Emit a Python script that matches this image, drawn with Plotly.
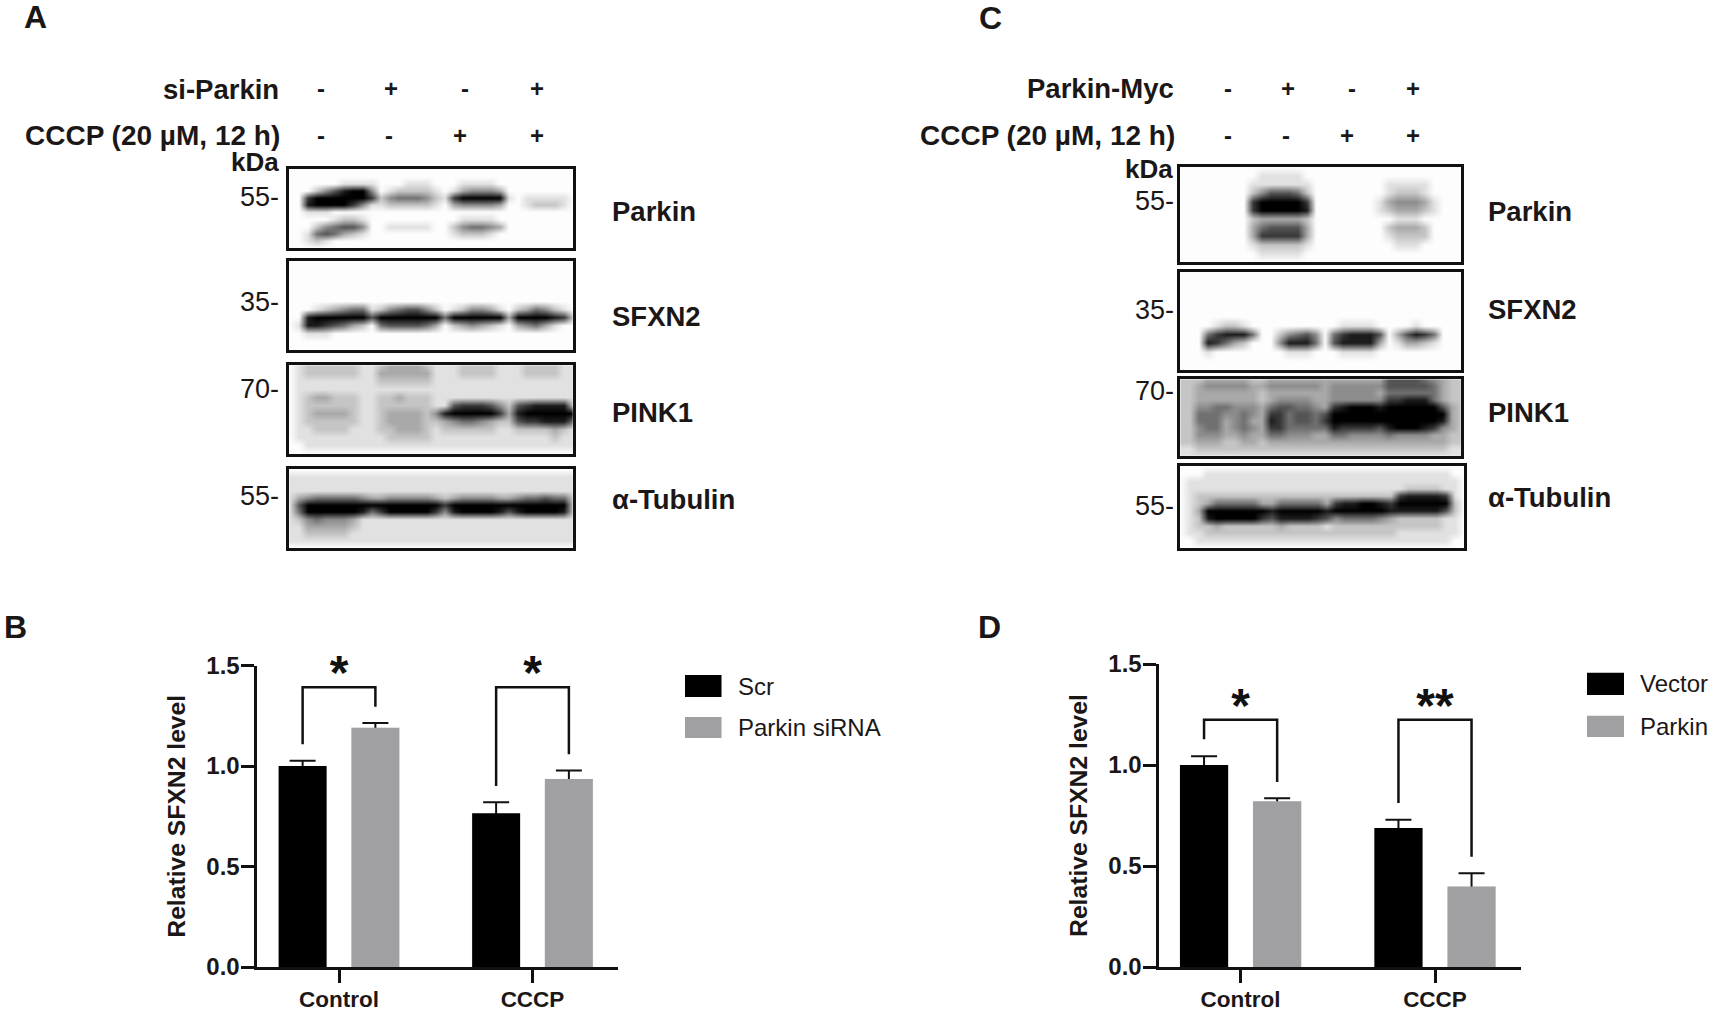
import plotly.graph_objects as go

W, H = 1713, 1009
FONT = "Liberation Sans"
INK = "#1c1717"

# ---------- bar data ----------
GROUPS = ["Control", "CCCP"]
B_SERIES = ["Scr", "Parkin siRNA"]
B_FIRST = [1.0, 0.765]
B_SECOND = [1.19, 0.935]
B_FIRST_ERR = [0.026, 0.055]
B_SECOND_ERR = [0.024, 0.043]
B_BRACKET_TOP = [1.392, 1.392]
B_BRACKET_LEFT = [1.108, 0.90]
B_BRACKET_RIGHT = [1.295, 1.058]
B_STARS = ["*", "*"]

D_SERIES = ["Vector", "Parkin"]
D_FIRST = [1.0, 0.688]
D_SECOND = [0.82, 0.398]
D_FIRST_ERR = [0.043, 0.041]
D_SECOND_ERR = [0.015, 0.066]
D_BRACKET_TOP = [1.224, 1.224]
D_BRACKET_LEFT = [1.128, 0.8125]
D_BRACKET_RIGHT = [0.916, 0.546]
D_STARS = ["*", "**"]

Y_TICKS = [0.0, 0.5, 1.0, 1.5]
Y_TICK_TEXT = ["0.0", "0.5", "1.0", "1.5"]
Y_TITLE = "Relative SFXN2 level"

# ---------- blot darkness (0 white .. 9 black) ----------
A_PARKIN = [
"00 0000000 0 0000000 0 000000 0 000000 0",
"00 0000000 0 0000000 0 000000 0 000000 0",
"00 0000111 1 0001110 0 011110 0 000000 0",
"00 0246899 4 0122221 0 134443 0 000000 0",
"00 7999999 7 2455542 1 799999 1 011111 0",
"00 8999974 1 1222221 0 344443 0 012221 0",
"00 1110000 0 0000000 0 000000 0 000000 0",
"00 0001221 0 0000000 0 011110 0 000000 0",
"00 0245664 0 0111110 0 245543 0 000000 0",
"00 1565321 0 0000000 0 122210 0 000000 0",
"00 1210000 0 0000000 0 000000 0 000000 0",
"00 0000000 0 0000000 0 000000 0 000000 0",
]
A_SFXN2 = [
"00 0000000 0 0000000 0 000000 0 000000 0",
"00 0000000 0 0000000 0 000000 0 000000 0",
"00 0000000 0 0000000 0 000000 0 000000 0",
"00 0000000 0 0000000 0 000000 0 000000 0",
"00 0000000 0 0000000 0 000000 0 000000 0",
"00 0000000 0 0000000 0 000000 0 000000 0",
"00 0123455 1 2456642 0 124431 0 235421 0",
"00 8999999 6 9999999 5 999999 3 999987 2",
"01 8876532 0 5666653 0 234321 0 345310 0",
"00 1110000 0 0000000 0 000000 0 000000 0",
"00 0000000 0 0000000 0 000000 0 000000 0",
"00 0000000 0 0000000 0 000000 0 000000 0",
]
A_PINK1 = [
"01 2222221 1 2333321 1 122221 1 122221 1",
"01 2222221 1 3333331 1 122221 1 122221 1",
"01 1111111 1 2222221 1 111111 1 111111 1",
"01 1111111 1 1111111 1 111111 1 111111 1",
"01 2332221 1 2232221 1 111111 1 111111 1",
"01 2222221 1 2222221 1 677764 2 678888 2",
"01 2333321 1 2333324 8 999997 3 899999 9",
"01 2222221 1 2333322 3 455432 2 677888 5",
"01 1222211 1 2233321 2 222221 1 222232 1",
"01 1111111 1 1222221 1 111111 1 111121 1",
"00 1111111 1 1111111 1 111111 1 111111 1",
"00 0000000 0 0000000 0 000000 0 000000 0",
]
A_TUBULIN = [
"00 0000000 0 0000000 0 000000 0 000000 0",
"11 1111111 1 1111111 1 111111 1 111111 1",
"11 1111111 1 1111111 1 111111 1 111111 1",
"11 1111111 1 1111111 1 111111 1 111111 1",
"13 4555554 3 3444443 2 344443 3 455655 2",
"16 9999999 9 9999999 7 999999 9 999999 2",
"15 9999998 5 7999997 4 899998 6 899998 2",
"12 4544431 1 1111111 1 111111 1 111111 1",
"11 3333321 1 1111111 1 111111 1 111111 1",
"11 2222211 1 1111111 1 111111 1 111111 1",
"11 1111111 1 1111111 1 111111 1 111111 1",
"00 0000000 0 0000000 0 000000 0 000000 0",
]
C_PARKIN = [
"00000000 0000000 0000000 0000000 000",
"00000000 0111110 0000000 0000000 000",
"00000000 1111111 0000000 0111110 000",
"00000000 2466652 0000000 0122210 000",
"00000000 7999997 0000000 1344431 000",
"00000000 7999998 0000000 1233321 000",
"00000000 2333332 0000000 0011100 000",
"00000000 3566663 0000000 0233320 000",
"00000000 3777773 0000000 0122220 000",
"00000000 1222221 0000000 0011100 000",
"00000000 0111110 0000000 0000000 000",
"00000000 0000000 0000000 0000000 000",
]
C_SFXN2 = [
"000 000000 00 00000 0 000000 0 00000 000",
"000 000000 00 00000 0 000000 0 00000 000",
"000 000000 00 00000 0 000000 0 00000 000",
"000 000000 00 00000 0 000000 0 00000 000",
"000 000000 00 00000 0 000000 0 00000 000",
"000 000000 00 00000 0 000000 0 00000 000",
"000 012210 00 00000 0 011110 0 00100 000",
"000 578885 00 24564 0 578886 0 36875 000",
"000 875320 00 48885 0 688883 0 13321 000",
"000 100000 00 01110 0 011110 0 00000 000",
"000 000000 00 00000 0 000000 0 00000 000",
"000 000000 00 00000 0 000000 0 00000 000",
]
C_PINK1 = [
"22 2333332 2 333333 3 333333 666654 322",
"22 3444443 3 444444 3 444444 666665 322",
"22 3333333 2 333333 3 444443 555555 322",
"22 3333333 2 344443 3 444444 778885 322",
"22 4455444 3 566554 3 789998 999999 632",
"22 5554454 3 775665 6 999999 999999 932",
"22 5553453 3 875665 7 999999 999999 832",
"22 4553454 3 775555 5 877776 899987 432",
"22 4443343 3 554443 3 554444 544443 322",
"22 3332233 2 333333 3 333333 333333 322",
"11 2222222 2 222222 2 222222 222222 211",
"11 1111111 1 111111 1 111111 111111 111",
]
C_TUBULIN = [
"000 0000000 0000000 0000000 000000 00",
"000 1111111 1111111 1111111 111111 00",
"011 1111111 1111111 1111111 111111 10",
"011 1111111 1111111 1111111 122221 10",
"012 2222222 2222222 2222222 788887 10",
"012 3555553 3555553 7889987 999999 20",
"013 9999999 8999998 9999998 888886 20",
"012 8999997 6888876 4555543 222221 10",
"012 2322222 2322221 2222222 222221 10",
"011 2222222 2222222 2222222 111111 10",
"001 1111111 1111111 1111111 111111 00",
"000 0000000 0000000 0000000 000000 00",
]

# ---------- text ----------
A_ROW_TITLES = ["si-Parkin", "CCCP (20 µM, 12 h)"]
A_ROW1 = ["-", "+", "-", "+"]
A_ROW2 = ["-", "-", "+", "+"]
C_ROW_TITLES = ["Parkin-Myc", "CCCP (20 µM, 12 h)"]
BLOT_NAMES = ["Parkin", "SFXN2", "PINK1", "α-Tubulin"]
A_MW = ["55-", "35-", "70-", "55-"]
C_MW = ["55-", "35-", "70-", "55-"]

# ---------- layout geometry (pixels in the 1713x1009 page) ----------
A_BOXES = [(288, 574, 168, 249), (288, 574, 260, 351), (288, 574, 364, 455), (288, 574, 468, 549)]
C_BOXES = [(1179, 1462, 166, 263), (1179, 1462, 271, 371), (1179, 1462, 378, 457), (1179, 1465, 465, 549)]
FRAME_INSET = 1.25

BAR_OFFSET = 0.188
BAR_WIDTH = 0.248
GREY = "#a0a0a3"


def fx(p):
    return p / W


def fy(p):
    return 1 - p / H


def parse(rows):
    grid = [[int(c) for c in r.replace(" ", "")] for r in rows]
    n = max(len(g) for g in grid)
    return [g + [0] * (n - len(g)) for g in grid]


fig = go.Figure()
layout = {}
annotations = []
shapes = []
axis_n = [0]


def new_axes(xdom, ydom):
    axis_n[0] += 1
    n = axis_n[0]
    suffix = "" if n == 1 else str(n)
    xa, ya = "xaxis" + suffix, "yaxis" + suffix
    layout[xa] = dict(domain=xdom, anchor="y" + suffix, automargin=False)
    layout[ya] = dict(domain=ydom, anchor="x" + suffix, automargin=False)
    return "x" + suffix, "y" + suffix, xa, ya


def add_blot(rows, box):
    x0, x1, y0, y1 = box
    i = FRAME_INSET
    xr, yr, xa, ya = new_axes([fx(x0 + i), fx(x1 - i)], [fy(y1 - i), fy(y0 + i)])
    z = parse(rows)
    fig.add_trace(go.Heatmap(
        z=z, xaxis=xr, yaxis=yr, zmin=0, zmax=9, zsmooth="best", showscale=False,
        colorscale=[[0, "#fdfdfd"], [1, "#000000"]], hoverinfo="skip"))
    common = dict(showticklabels=False, ticks="", showgrid=False, zeroline=False, showline=True,
                  mirror=True, linewidth=2.5, linecolor="#111111")
    layout[xa].update(common, range=[0, len(z[0]) - 1])
    layout[ya].update(common, range=[len(z) - 1, 0])


def text(s, x, y, size=27.5, bold=True, anchor="left", color=INK):
    annotations.append(dict(
        text=s, xref="paper", yref="paper", x=fx(x), y=fy(y), xanchor=anchor, yanchor="middle",
        showarrow=False, align=anchor, borderpad=0,
        font=dict(family=FONT, size=size, color=color, weight=700 if bold else 400)))


def add_bars(geom, series, first, second, first_err, second_err, top, left, right, stars, star_y):
    dl, dr, dt, db, t1, t2, title_standoff = geom
    xr, yr, xa, ya = new_axes([fx(dl), fx(dr)], [fy(db), fy(dt)])
    unit = t2 - t1
    pos = [1, 2]
    lo = [p - BAR_OFFSET for p in pos]
    hi = [p + BAR_OFFSET for p in pos]
    for xs, vals, errs, col, name in ((lo, first, first_err, "#000000", series[0]),
                                      (hi, second, second_err, GREY, series[1])):
        # whiskers sit on a hidden bar so that the opaque bar covers their lower cap
        fig.add_trace(go.Bar(
            x=xs, y=vals, width=BAR_WIDTH, xaxis=xr, yaxis=yr, showlegend=False, hoverinfo="skip",
            marker=dict(color="rgba(0,0,0,0)"),
            error_y=dict(type="data", symmetric=False, array=errs, arrayminus=[0.02] * len(errs),
                         color="#111111", thickness=2, width=13)))
        fig.add_trace(go.Bar(x=xs, y=vals, width=BAR_WIDTH, xaxis=xr, yaxis=yr, name=name,
                             showlegend=False, marker=dict(color=col, line=dict(width=0))))
    for i in range(2):
        fig.add_trace(go.Scatter(
            x=[lo[i], lo[i], hi[i], hi[i]], y=[left[i], top[i], top[i], right[i]],
            mode="lines", line=dict(color="#111111", width=2.5), xaxis=xr, yaxis=yr,
            showlegend=False, hoverinfo="skip", cliponaxis=False))
    fig.add_trace(go.Scatter(
        x=pos, y=star_y, mode="text", text=stars, textposition="middle center", xaxis=xr, yaxis=yr,
        textfont=dict(family=FONT, size=48, color="#111111", weight=700), showlegend=False,
        hoverinfo="skip", cliponaxis=False))
    layout[xa].update(
        range=[1 + (dl - t1) / unit, 1 + (dr - t1) / unit], tickvals=pos, ticktext=GROUPS,
        ticks="outside", ticklen=13, tickwidth=2.5, tickcolor="#111111", showgrid=False, zeroline=False,
        showline=True, linewidth=3, linecolor="#111111", ticklabelstandoff=-3,
        tickfont=dict(family=FONT, size=22.5, color=INK, weight=700))
    layout[ya].update(
        range=[0, 1.5], tickvals=Y_TICKS, ticktext=Y_TICK_TEXT,
        ticks="outside", ticklen=13, tickwidth=3, tickcolor="#111111", showgrid=False, zeroline=False,
        showline=True, linewidth=3, linecolor="#111111", ticklabelstandoff=-4,
        tickfont=dict(family=FONT, size=24, color=INK, weight=700),
        title=dict(text=Y_TITLE, standoff=title_standoff,
                   font=dict(family=FONT, size=24.7, color=INK, weight=700)))


for rows, box in zip((A_PARKIN, A_SFXN2, A_PINK1, A_TUBULIN), A_BOXES):
    add_blot(rows, box)
for rows, box in zip((C_PARKIN, C_SFXN2, C_PINK1, C_TUBULIN), C_BOXES):
    add_blot(rows, box)

add_bars((256.5, 618, 665.5, 967, 339, 532.5, 14), B_SERIES, B_FIRST, B_SECOND, B_FIRST_ERR, B_SECOND_ERR,
         B_BRACKET_TOP, B_BRACKET_LEFT, B_BRACKET_RIGHT, B_STARS, [1.443, 1.443])
add_bars((1158.5, 1521, 664, 967, 1240.6, 1435, 14), D_SERIES, D_FIRST, D_SECOND, D_FIRST_ERR, D_SECOND_ERR,
         D_BRACKET_TOP, D_BRACKET_LEFT, D_BRACKET_RIGHT, D_STARS, [1.271, 1.271])

# panel letters
for s, x, y in (("A", 23, 17), ("C", 978, 18), ("B", 3, 627), ("D", 977, 627)):
    text(s, x, y, size=32)

# panel A text
text(A_ROW_TITLES[0], 280, 90, anchor="right")
text(A_ROW_TITLES[1], 281, 136, size=28, anchor="right")
text("kDa", 280, 162, size=26, anchor="right")
for s, x in zip(A_ROW1, (320.5, 391, 465, 537)):
    text(s, x, 89, size=24, anchor="center")
for s, x in zip(A_ROW2, (320.5, 389, 460, 537)):
    text(s, x, 135, size=24, anchor="center")
for s, y in zip(A_MW, (197.5, 302, 389, 496)):
    text(s, 280, y, size=27, bold=False, anchor="right")
for s, y in zip(BLOT_NAMES, (212, 316, 412, 499)):
    text(s, 611, y)

# panel C text
text(C_ROW_TITLES[0], 1175, 89, anchor="right")
text(C_ROW_TITLES[1], 1176, 136, size=28, anchor="right")
text("kDa", 1174, 169, size=26, anchor="right")
for s, x in zip(A_ROW1, (1227.5, 1288.4, 1351.6, 1413)):
    text(s, x, 89, size=24, anchor="center")
for s, x in zip(A_ROW2, (1227.5, 1286, 1347, 1413)):
    text(s, x, 135.5, size=24, anchor="center")
for s, y in zip(C_MW, (200.7, 310, 391, 505.5)):
    text(s, 1175, y, size=27, bold=False, anchor="right")
for s, y in zip(BLOT_NAMES, (212, 309, 412, 497.5)):
    text(s, 1487, y)


# legends
def legend(series, colors, x0, x1, ys, xt):
    for name, col, (y0, y1) in zip(series, colors, ys):
        shapes.append(dict(type="rect", xref="paper", yref="paper", x0=fx(x0), x1=fx(x1), y0=fy(y1), y1=fy(y0),
                           fillcolor=col, line=dict(width=0)))
        text(name, xt, (y0 + y1) / 2, size=24, bold=False)


legend(B_SERIES, ("#000000", GREY), 685, 721.5, ((675, 697), (717, 738)), 737)
legend(D_SERIES, ("#000000", GREY), 1587, 1624, ((672.7, 695), (715.7, 737)), 1639)

fig.update_layout(width=W, height=H, margin=dict(l=0, r=0, t=0, b=0, autoexpand=False),
                  paper_bgcolor="white", plot_bgcolor="white",
                  barmode="overlay", showlegend=False, annotations=annotations, shapes=shapes, **layout)
fig.write_html("out.html", config={"displayModeBar": False}, post_script="document.body.style.margin='0';")
